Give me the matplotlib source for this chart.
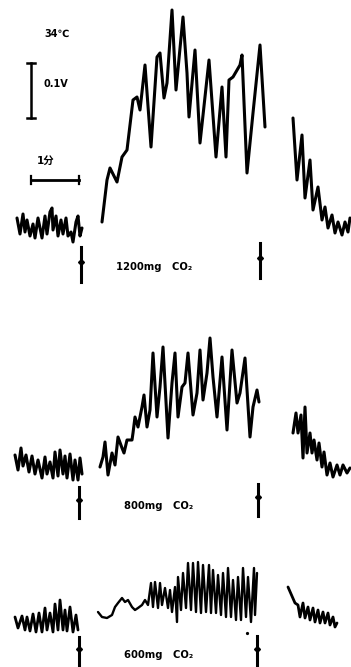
import matplotlib.pyplot as plt

plt.rcParams['font.family'] = ['DejaVu Sans', 'Noto Sans CJK SC']

# recording traces, x = chart time position, y = pen position (downwards)
# 1200mg CO2
pre_1200_x = [17, 20, 23, 25, 27, 30, 33, 35, 38, 42, 45, 47, 50, 52, 53, 56, 58, 61, 63, 66, 68, 71, 73, 76, 78, 80, 82]
pre_1200_y = [218, 234, 214, 232, 220, 236, 224, 238, 218, 238, 216, 234, 212, 208, 230, 216, 236, 220, 234, 218, 236, 232, 242, 222, 216, 236, 228]
run_1200_x = [102, 107, 110, 117, 122, 127, 133, 137, 140, 145, 151, 157, 160, 164, 167, 172, 176, 183, 187,
              189, 195, 200, 209, 216, 222, 226, 229, 233, 240, 242, 247, 253, 260, 265]
run_1200_y = [222, 180, 168, 182, 157, 150, 100, 97, 110, 65, 147, 57, 53, 98, 83, 10, 90, 17, 73,
              117, 50, 143, 60, 157, 87, 157, 80, 77, 65, 55, 173, 113, 45, 127]
post_1200_x = [293, 297, 302, 305, 310, 313, 318, 322, 325, 328, 332, 335, 338, 342, 345, 348, 350]
post_1200_y = [118, 180, 135, 198, 160, 210, 187, 220, 207, 228, 215, 233, 222, 235, 222, 232, 218]

# 800mg CO2
pre_800_x = [15, 18, 21, 23, 26, 29, 32, 35, 38, 42, 45, 47, 50, 53, 55, 58, 60, 63, 65, 67, 70, 73, 75, 78, 80, 82]
pre_800_y = [455, 470, 448, 466, 455, 472, 456, 474, 460, 478, 457, 474, 462, 478, 452, 476, 450, 474, 456, 478, 454, 480, 460, 480, 458, 474]
run_800_x = [100, 103, 105, 108, 112, 115, 118, 122, 124, 127, 132, 133, 135, 138, 142, 144, 147, 150,
             153, 157, 160, 163, 168, 172, 175, 178, 182, 185, 188, 193, 197, 200, 203, 207, 210, 213,
             217, 222, 227, 232, 237, 240, 245, 250, 253, 257, 259]
run_800_y = [467, 457, 442, 475, 453, 465, 437, 448, 453, 440, 440, 433, 417, 427, 407, 395, 427, 410,
             353, 417, 387, 347, 438, 383, 353, 417, 387, 383, 353, 415, 393, 350, 400, 373, 338, 377,
             417, 357, 430, 350, 403, 393, 358, 437, 407, 390, 402]
post_800_x = [293, 296, 298, 301, 303, 305, 307, 310, 312, 314, 317, 319, 322, 324, 327, 330, 333, 337, 340, 343, 347, 350]
post_800_y = [433, 413, 433, 415, 458, 407, 453, 433, 453, 440, 460, 443, 467, 452, 475, 463, 477, 465, 475, 465, 473, 468]

# 600mg CO2
pre_600_x = [15, 18, 22, 25, 27, 30, 33, 36, 39, 42, 45, 47, 50, 53, 55, 58, 60, 63, 65, 67, 70, 73, 76, 78]
pre_600_y = [617, 628, 616, 630, 617, 631, 614, 632, 613, 632, 608, 630, 613, 632, 604, 630, 600, 630, 610, 631, 607, 632, 615, 630]
run_600_x = [98, 102, 107, 112, 115, 118, 122, 125, 128, 132, 135, 138, 142, 145, 148, 151, 153, 155, 158,
             160, 162, 165, 168, 170, 172, 175, 177, 178, 181, 183, 186, 188, 191, 193, 196, 198, 201,
             203, 206, 209, 211, 213, 216, 218, 221, 223, 226, 228, 231, 233, 236, 238, 241, 243, 246,
             248, 251, 254, 255, 257]
run_600_y = [612, 617, 618, 615, 607, 603, 598, 602, 600, 607, 610, 608, 605, 600, 605, 583, 607, 582,
             608, 583, 605, 588, 608, 590, 612, 587, 622, 577, 610, 573, 608, 563, 610, 563, 612, 562,
             613, 565, 612, 565, 613, 570, 613, 575, 615, 573, 617, 568, 617, 580, 620, 577, 620, 568,
             617, 577, 622, 568, 615, 573]
post_600_x = [288, 295, 298, 300, 303, 305, 308, 310, 313, 315, 318, 320, 323, 325, 328, 330, 333, 335, 337]
post_600_y = [587, 603, 605, 617, 603, 618, 607, 620, 608, 622, 610, 623, 612, 623, 613, 625, 617, 627, 623]

traces = [
    (pre_1200_x, pre_1200_y), (run_1200_x, run_1200_y), (post_1200_x, post_1200_y),
    (pre_800_x, pre_800_y), (run_800_x, run_800_y), (post_800_x, post_800_y),
    (pre_600_x, pre_600_y), (run_600_x, run_600_y), (post_600_x, post_600_y),
]
trace_lw = [2.2, 2.2, 2.2, 2.2, 2.2, 2.2, 2.0, 1.7, 2.0]

# CO2 on/off marks: x, top, bottom
marks_x = [81, 260, 79, 258, 79, 257]
marks_top = [247, 243, 487, 484, 637, 636]
marks_bot = [282, 278, 518, 516, 667, 667]

doses = ['1200mg   CO₂', '800mg   CO₂', '600mg   CO₂']
dose_x = [116, 124, 124]
dose_y = [267, 506, 655]

fig = plt.figure(figsize=(3.51, 6.67), dpi=100)
ax = fig.add_axes([0, 0, 1, 1])
ax.set_xlim(0, 351)
ax.set_ylim(667, 0)
ax.axis('off')

for (xs, ys), lw in zip(traces, trace_lw):
    ax.plot(xs, ys, color='black', lw=lw, solid_joinstyle='round', solid_capstyle='round')

for x, t, b in zip(marks_x, marks_top, marks_bot):
    ax.plot([x, x], [t, b], color='black', lw=2.2)
    ax.plot([x], [(t + b) / 2 - 3], marker='D', color='black', ms=3)

for s, x, y in zip(doses, dose_x, dose_y):
    ax.text(x, y, s, fontsize=7.2, fontweight='bold', ha='left', va='center')

# stray ink dot on the last record
ax.plot([247], [633], marker='o', color='black', ms=1.3)

# scale bars
ax.plot([31, 31], [63, 118], color='black', lw=1.8)
ax.plot([27, 35], [63, 63], color='black', lw=1.8)
ax.plot([27, 35], [118, 118], color='black', lw=1.8)
ax.plot([31, 79], [180, 180], color='black', lw=2.0)
ax.plot([31, 31], [176, 184], color='black', lw=1.6)
ax.plot([79, 79], [176, 184], color='black', lw=1.6)

ax.text(44, 34, '34℃', fontsize=7, fontweight='bold', ha='left', va='center')
ax.text(44, 84, '0.1V', fontsize=7, fontweight='bold', ha='left', va='center')
ax.text(37, 161, '1分', fontsize=7.5, fontweight='bold', ha='left', va='center')

fig.savefig('out.png', dpi=100)
